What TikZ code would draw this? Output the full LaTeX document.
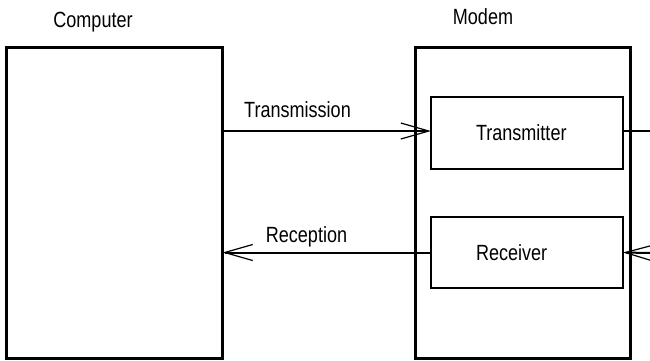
\documentclass[tikz,border=0pt]{standalone}
\usepackage{fontspec}
\setmainfont[FakeStretch=0.82]{Liberation Sans}
\usetikzlibrary{arrows.meta}
\tikzset{
  outerbox/.style={draw, line width=3pt, inner sep=0pt, outer sep=0pt},
  innerbox/.style={draw, line width=2pt, inner ysep=0pt, inner xsep=45pt, outer sep=0pt,
    text width=102pt, align=left, minimum width=192pt, font=\fontsize{22}{24}\selectfont},
  lbl/.style={inner sep=0pt, anchor=base, font=\fontsize{22}{24}\selectfont},
  conn/.style={line width=2pt},
  arr/.style={line width=2pt, -{Straight Barb[length=28pt,width=16pt,line width=1.2pt]}},
}
\begin{document}
\begin{tikzpicture}[x=1pt,y=-1pt]
\useasboundingbox (0,0) rectangle (650,360);
\node[outerbox, minimum width=216pt, minimum height=310.5pt] (comp) at (114.5,202.75) {};
\node[outerbox, minimum width=215pt, minimum height=310.5pt] (modem) at (522.5,202.75) {};
\node[innerbox, minimum height=72pt] (tx) at (527,133) {Transmitter};
\node[innerbox, minimum height=71pt] (rx) at (527,252.5) {Receiver};
\node[lbl] (lcomp) at (93,27) {Computer};
\node[lbl] (lmodem) at (483,24) {Modem};
\node[lbl] (ltrans) at (297.5,117) {Transmission};
\node[lbl] (lrecep) at (306.5,242) {Reception};
\coordinate (txout) at (650,131);
\coordinate (rxin) at (650,253);
\draw[arr] ([yshift=2pt]comp.east |- tx.west) -- ([yshift=2pt]tx.west);
\draw[conn] ([yshift=2pt]tx.east) -- (txout);
\draw[arr] (rx.west) -- (comp.east |- rx.west);
\draw[arr] (rxin) -- (rx.east);
\end{tikzpicture}
\end{document}
